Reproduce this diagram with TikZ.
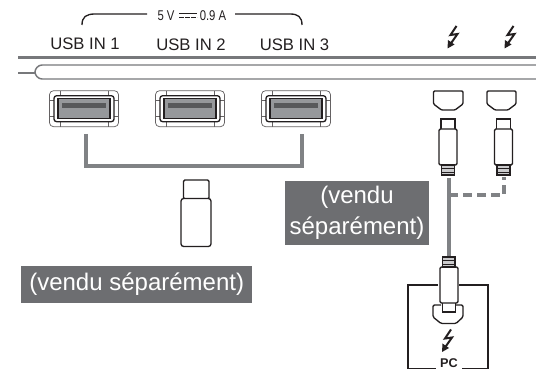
\documentclass[tikz,border=0pt]{standalone}
\usepackage{fontspec}
\setmainfont{Liberation Sans}
\definecolor{cable}{HTML}{808285}
\definecolor{bar}{HTML}{77787B}
\definecolor{label}{HTML}{6D6E71}
\definecolor{portfill}{HTML}{96989B}
\definecolor{portband}{HTML}{58595B}
\definecolor{ink}{HTML}{231F20}
\tikzset{
  px/.style={x=0.75pt,y=-0.75pt},
  outline/.style={draw=ink,line width=1pt,fill=white},
  thinline/.style={draw=ink!70,line width=0.55pt},
  cableline/.style={draw=cable,line width=2.7pt},
  barline/.style={draw=bar,line width=1.1pt},
  usblabel/.style={font=\fontsize{12.5}{14}\selectfont,text=ink,inner sep=0pt},
  graylabel/.style={fill=label,text=white,font=\fontsize{18}{23}\selectfont,inner sep=0pt,align=center},
  smalllabel/.style={inner sep=0pt,text=ink,font=\fontsize{10.6}{12}\selectfont},
}
\newcommand{\usbport}[3]{%
  \begin{scope}[shift={(#2,#3)}]
    \coordinate (#1) at (0,0);
    \draw[thinline,rounded corners=3pt] (-34.5,-18) rectangle (34.5,18);
    \draw[thinline] (-24,-18)--(-24,-13) (24,-18)--(24,-13) (-24,13)--(-24,18) (24,13)--(24,18);
    \draw[thinline] (-34.5,-8)--(-30,-8) (34.5,-8)--(30,-8) (-34.5,8)--(-30,8) (34.5,8)--(30,8);
    \draw[draw=ink,line width=1pt,rounded corners=2pt,fill=white] (-30,-13) rectangle (30,13);
    \draw[draw=ink,line width=0.8pt,fill=portfill] (-26,-10) rectangle (26,10);
    \fill[portband] (-22,-6) rectangle (22,-1);
  \end{scope}}
\newcommand{\bolt}[2]{%
  \begin{scope}[shift={(#1,#2)}]
    \draw[ink,line width=1.5pt,line join=miter] (0,0)--(-6,9)--(1,8)--(-6,18);
    \fill[ink] (-9,22.5)--(-8.5,14)--(-2,18.5)--cycle;
  \end{scope}}
% socket with chamfered lower corners
\newcommand{\socket}[3]{%
  \draw[outline,rounded corners=0.8pt] (#1,#2) -- (#3,#2) -- (#3,{#2+13}) -- ({#3-8},{#2+19}) -- ({#1+8},{#2+19}) -- (#1,{#2+13}) -- cycle;}
% plug: tip, body, small end; cx = centre, y = top
\newcommand{\thinplug}[2]{%
  \draw[outline] ({#1-7},#2) rectangle ({#1+7},{#2+11});
  \draw[outline,rounded corners=1pt] ({#1-9},{#2+10}) rectangle ({#1+9},{#2+46});
  \draw[draw=ink,line width=1pt,fill=portfill!50] ({#1-6.5},{#2+46}) rectangle ({#1+6.5},{#2+56});
  \draw[ink,line width=0.7pt] ({#1-6.5},{#2+49}) -- ({#1+6.5},{#2+49}) ({#1-6.5},{#2+53}) -- ({#1+6.5},{#2+53});}
\begin{document}
\begin{tikzpicture}[px]
\useasboundingbox (0,0) rectangle (536,370);
\clip (0,0) rectangle (536,370);
% brace and power rating
\coordinate (bl0) at (82,25); \coordinate (bl1) at (147,14);
\coordinate (br0) at (302,25); \coordinate (br1) at (235,14);
\draw[ink,line width=1pt] (bl0) .. controls (82,17) and (86,14) .. (95,14) -- (bl1);
\draw[ink,line width=1pt] (br0) .. controls (302,17) and (298,14) .. (290,14) -- (br1);
\node[smalllabel] (v) at (166,16) {\scalebox{.8}[1]{5 V}};
\node[smalllabel] (a) at (213,16) {\scalebox{.8}[1]{0.9 A}};
\draw[ink,line width=1pt] (179,13.5)--(197,13.5);
\draw[ink,line width=1pt,dash pattern=on 3.6pt off 0.9pt] (179,17.5)--(197,17.5);
% labels
\node[usblabel] (u1) at (85,44) {USB IN 1};
\node[usblabel] (u2) at (191,45) {USB IN 2};
\node[usblabel] (u3) at (294.5,45) {USB IN 3};
\bolt{456.5}{26}
\bolt{513.5}{26}
% panel
\draw[bar,line width=1.7pt] (18,57.5)--(536,57.5);
\draw[barline] (536,65)--(42,65) .. controls (38,65) and (35,69) .. (35,72) .. controls (35,75) and (38,79) .. (42,79) -- (536,79);
\draw[barline] (18,73)--(35,73);
% USB ports
\usbport{p1}{84}{108.7}
\usbport{p2}{190}{108.7}
\usbport{p3}{296}{108.7}
% hub line
\coordinate (h1) at (86,134); \coordinate (h3) at (302,134);
\draw[cableline,line join=miter] (h1) |- (194,166) -| (h3);
% USB stick
\draw[outline,rounded corners=1pt] (183.5,180) rectangle (209,199);
\draw[outline,rounded corners=2pt] (181,198.5) rectangle (211,246.5);
% gray labels
\node[graylabel,minimum width=173.5pt,minimum height=28pt] (g1) at (136.7,284.5) {(vendu séparément)};
\node[graylabel,minimum width=108pt,minimum height=47.5pt] (g2) at (357,213) {(vendu\\séparément)};
% thunderbolt sockets and cables
\socket{433.5}{91}{463}
\socket{487}{91}{516}
\coordinate (c1) at (449,178); \coordinate (c2) at (449,257);
\coordinate (d1) at (504,177); \coordinate (d2) at (449,195);
\draw[cableline] (c1)--(c2);
\draw[cableline,dash pattern=on 7pt off 3.5pt] (d2)-|(d1);
\thinplug{448}{119}
\thinplug{503.5}{119}
% PC box
\draw[ink,line width=1pt] (438,285)--(408,285)--(408,368.5)--(436,368.5);
\draw[ink,line width=1pt] (459,285)--(488,285)--(488,368.5)--(462,368.5);
\node[inner sep=0pt,font=\bfseries\fontsize{9.5}{11}\selectfont,text=ink] (pc) at (449,363.5) {PC};
% PC side plug
\draw[draw=ink,line width=1pt,fill=white,rounded corners=1pt] (441,305)--(433,305)--(433,317)--(441,323.5)--(456,323.5)--(463,317)--(463,305)--(456,305);
\draw[outline] (442.5,300) rectangle (455.5,312);
\draw[outline,rounded corners=1pt] (440,267) rectangle (458,303);
\draw[draw=ink,line width=1pt,fill=portfill!50] (442.5,257) rectangle (455,267);
\draw[ink,line width=0.7pt] (442.5,260.5)--(455,260.5) (442.5,264)--(455,264);
\bolt{451}{329.5}
\end{tikzpicture}
\end{document}
